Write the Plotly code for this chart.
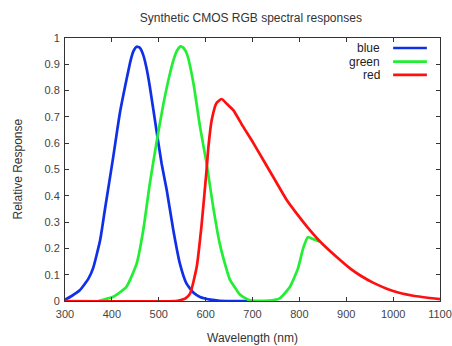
import plotly.graph_objects as go

blue_nm = [300, 315, 332, 350, 360, 375, 385, 403, 417, 431, 440, 446, 453, 460, 467, 474, 481, 495, 506, 517, 531, 545, 559, 575, 588, 610, 630, 680, 740]
blue_val = [0.005, 0.02, 0.042, 0.085, 0.125, 0.232, 0.346, 0.549, 0.714, 0.84, 0.915, 0.95, 0.967, 0.962, 0.935, 0.885, 0.815, 0.65, 0.524, 0.422, 0.27, 0.143, 0.067, 0.03, 0.015, 0.005, 0.001, 0.0, 0.0]

green_nm = [371, 403, 431, 453, 467, 481, 495, 510, 524, 533, 540, 547, 554, 561, 574, 588, 602, 616, 630, 645, 652, 666, 673, 690, 701, 730, 758, 780, 797, 808, 818, 830, 844]
green_val = [0.0, 0.016, 0.054, 0.143, 0.27, 0.447, 0.6, 0.75, 0.866, 0.925, 0.955, 0.968, 0.96, 0.935, 0.828, 0.663, 0.524, 0.359, 0.219, 0.118, 0.08, 0.042, 0.025, 0.006, 0.0, 0.0, 0.01, 0.054, 0.124, 0.2, 0.242, 0.235, 0.226]

red_nm = [300, 535, 545, 557, 567, 581, 591, 602, 606, 613, 623, 634, 645, 659, 680, 698, 723, 748, 773, 794, 822, 844, 879, 908, 930, 957, 1000, 1043, 1100]
red_val = [0.0, 0.0, 0.003, 0.01, 0.029, 0.13, 0.283, 0.498, 0.587, 0.688, 0.752, 0.768, 0.75, 0.726, 0.663, 0.612, 0.536, 0.46, 0.384, 0.333, 0.27, 0.226, 0.168, 0.124, 0.097, 0.07, 0.038, 0.02, 0.007]

series = [
    ("blue", blue_nm, blue_val, "#1030e8"),
    ("green", green_nm, green_val, "#22ee33"),
    ("red", red_nm, red_val, "#ff1010"),
]

x_ticks = list(range(300, 1101, 100))
y_ticks = [i / 10 for i in range(11)]
y_ticktext = ["0", "0.1", "0.2", "0.3", "0.4", "0.5", "0.6", "0.7", "0.8", "0.9", "1"]

fig = go.Figure()
for name, xs, ys, col in series:
    fig.add_trace(go.Scatter(x=xs, y=ys, mode="lines", name=name,
                             line=dict(color=col, width=2.7, shape="spline", smoothing=0.5),
                             showlegend=False))

# gnuplot-style legend (text right, sample line to its right)
rows = [0.962, 0.91, 0.86]
for (name, xs, ys, col), ry in zip(series, rows):
    fig.add_annotation(xref="paper", yref="paper", x=0.845, y=ry, text=name,
                       showarrow=False, xanchor="right", yanchor="middle",
                       font=dict(size=12, color="#222"))
    fig.add_shape(type="line", xref="paper", yref="paper", x0=0.875, x1=0.965, y0=ry, y1=ry,
                  line=dict(color=col, width=2.7))

# axis titles
fig.add_annotation(xref="paper", yref="paper", x=0.5, y=0, yshift=-37, text="Wavelength (nm)",
                   showarrow=False, xanchor="center", yanchor="middle",
                   font=dict(size=12, color="#333"))
fig.add_annotation(xref="paper", yref="paper", x=0, xshift=-48, y=0.5, text="Relative Response",
                   textangle=-90, showarrow=False, xanchor="center", yanchor="middle",
                   font=dict(size=12, color="#333"))

axis_common = dict(showline=True, linecolor="#333", linewidth=1, mirror="allticks",
                   ticks="inside", ticklen=4, tickcolor="#333", showgrid=False, zeroline=False,
                   automargin=False, tickfont=dict(size=11, color="#444"))

fig.update_layout(
    width=452, height=346,
    margin=dict(l=65, r=12, t=38, b=45),
    paper_bgcolor="white", plot_bgcolor="white",
    font=dict(family="Liberation Sans, Arial, sans-serif", color="#333"),
    title=dict(text="Synthetic CMOS RGB spectral responses", x=0.555, xanchor="center",
               y=0.95, yanchor="middle", font=dict(size=12, color="#333")),
    xaxis=dict(range=[300, 1100], tickvals=x_ticks, ticklabelstandoff=3, **axis_common),
    yaxis=dict(range=[0, 1], tickvals=y_ticks, ticktext=y_ticktext, ticklabelstandoff=2, **axis_common),
)

fig.write_html("out.html")
